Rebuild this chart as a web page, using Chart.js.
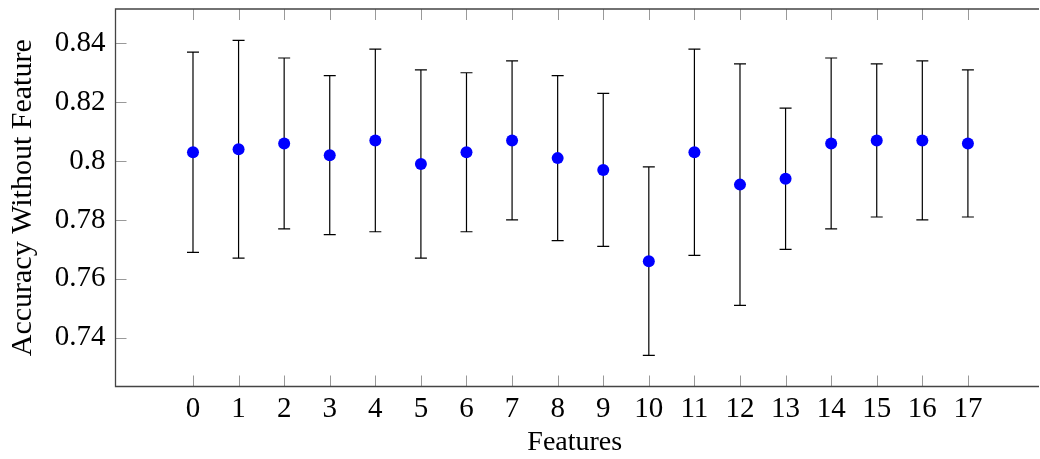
<!DOCTYPE html>
<html>
<head>
<meta charset="utf-8">
<script src="https://cdn.jsdelivr.net/npm/chart.js@4/dist/chart.umd.min.js"></script>
<style>
  html, body { margin: 0; padding: 0; background: #fff; }
  #wrap { width: 1040px; height: 459px; }
</style>
</head>
<body>
<div id="wrap"><canvas id="graphique"></canvas></div>
<script>
// Données
const features = [0, 1, 2, 3, 4, 5, 6, 7, 8, 9, 10, 11, 12, 13, 14, 15, 16, 17];
const accuracy = [0.803, 0.804, 0.806, 0.802, 0.807, 0.799, 0.803, 0.807, 0.801, 0.797,
                  0.766, 0.803, 0.792, 0.794, 0.806, 0.807, 0.807, 0.806];
const errHaut  = [0.837, 0.841, 0.835, 0.829, 0.838, 0.831, 0.830, 0.834, 0.829, 0.823,
                  0.798, 0.838, 0.833, 0.818, 0.835, 0.833, 0.834, 0.831];
const errBas   = [0.769, 0.767, 0.777, 0.775, 0.776, 0.767, 0.776, 0.780, 0.773, 0.771,
                  0.734, 0.768, 0.751, 0.770, 0.777, 0.781, 0.780, 0.781];
const yTicks = [0.74, 0.76, 0.78, 0.8, 0.82, 0.84];

const police = "'Liberation Serif', 'Times New Roman', serif";

/* Barres d'erreur dessinées avec les échelles du graphique */
const barresErreur = {
  id: 'barresErreur',
  beforeDatasetsDraw(chart) {
    const {ctx, scales: {x, y}} = chart;
    ctx.save();
    ctx.strokeStyle = '#000';
    ctx.lineWidth = 1.2;
    features.forEach((f, i) => {
      const px = x.getPixelForValue(f);
      const ph = y.getPixelForValue(errHaut[i]);
      const pb = y.getPixelForValue(errBas[i]);
      ctx.beginPath();
      ctx.moveTo(px, ph); ctx.lineTo(px, pb);
      ctx.moveTo(px - 6, ph); ctx.lineTo(px + 6, ph);
      ctx.moveTo(px - 6, pb); ctx.lineTo(px + 6, pb);
      ctx.stroke();
    });
    ctx.restore();
  }
};

/* Cadre et graduations intérieures façon pgfplots */
const cadre = {
  id: 'cadre',
  beforeDatasetsDraw(chart) {
    const {ctx, chartArea: a, scales: {x, y}} = chart;
    ctx.save();
    ctx.strokeStyle = '#999';
    ctx.lineWidth = 1;
    x.ticks.forEach(t => {
      const px = Math.round(x.getPixelForValue(t.value)) + 0.5;
      ctx.beginPath();
      ctx.moveTo(px, a.bottom); ctx.lineTo(px, a.bottom - 11);
      ctx.moveTo(px, a.top); ctx.lineTo(px, a.top + 11);
      ctx.stroke();
    });
    y.ticks.forEach(t => {
      const py = Math.round(y.getPixelForValue(t.value)) + 0.5;
      ctx.beginPath();
      ctx.moveTo(a.left, py); ctx.lineTo(a.left + 11, py);
      ctx.stroke();
    });
    ctx.strokeStyle = '#444';
    ctx.lineWidth = 1.3;
    ctx.beginPath();
    ctx.moveTo(a.right + 5, a.top); ctx.lineTo(a.left, a.top);
    ctx.lineTo(a.left, a.bottom); ctx.lineTo(a.right + 5, a.bottom);
    ctx.stroke();
    ctx.restore();
  }
};

const data = {
  datasets: [{
    label: 'Accuracy',
    data: features.map((f, i) => ({x: f, y: accuracy[i]})),
    showLine: false,
    pointRadius: 6,
    pointHoverRadius: 6,
    pointBackgroundColor: '#0000ff',
    pointBorderColor: '#0000ff',
    pointBorderWidth: 0,
  }]
};

const options = {
  responsive: true,
  maintainAspectRatio: false,
  animation: false,
  layout: { padding: { top: 9, left: 0, right: 0, bottom: 0 } },
  plugins: { legend: { display: false }, tooltip: { enabled: false } },
  scales: {
    x: {
      type: 'linear',
      min: -1.7,
      max: 18.45,
      afterBuildTicks: s => { s.ticks = features.map(v => ({value: v})); },
      afterFit: s => { s.height = 72.5; s.paddingLeft = 0; s.paddingRight = 0; },
      grid: { display: false, drawTicks: false },
      border: { display: false },
      ticks: {
        color: '#000',
        padding: 5,
        maxRotation: 0,
        autoSkip: false,
        font: { family: police, size: 29 },
        callback: v => String(v),
      },
      title: {
        display: true,
        text: 'Features',
        color: '#000',
        padding: { top: 8, bottom: 0 },
        font: { family: police, size: 28 },
      },
    },
    y: {
      type: 'linear',
      min: 0.72343,
      max: 0.85165,
      afterBuildTicks: s => { s.ticks = yTicks.map(v => ({value: v})); },
      afterFit: s => { s.width = 115.5; s.paddingTop = 0; s.paddingBottom = 0; },
      grid: { display: false, drawTicks: false },
      border: { display: false },
      ticks: {
        color: '#000',
        padding: 10,
        font: { family: police, size: 29 },
        callback: v => String(Math.round(v * 100) / 100),
      },
      title: {
        display: true,
        text: 'Accuracy Without Feature',
        color: '#000',
        padding: { top: 5, bottom: 0 },
        font: { family: police, size: 30 },
      },
    },
  },
};

const ctx = document.getElementById('graphique').getContext('2d');
new Chart(ctx, { type: 'scatter', data, options, plugins: [cadre, barresErreur] });
</script>
</body>
</html>
